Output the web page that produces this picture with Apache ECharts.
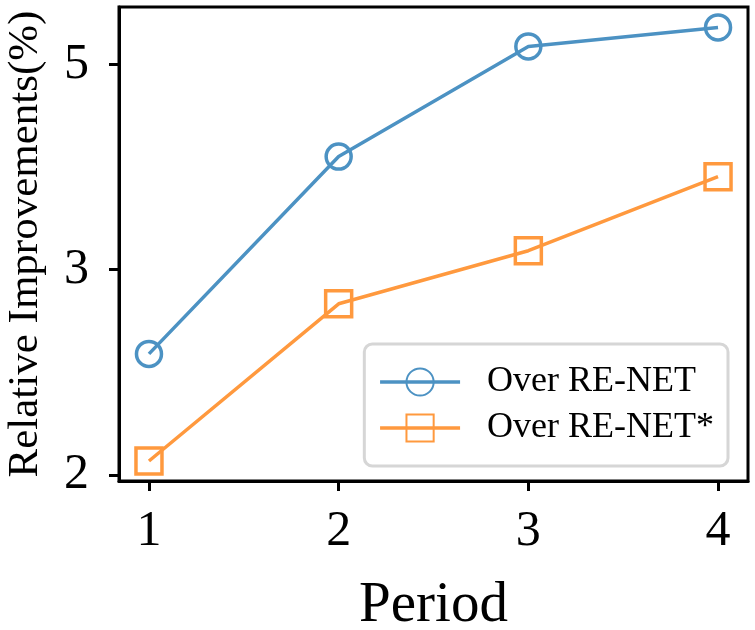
<!DOCTYPE html>
<html>
<head>
<meta charset="utf-8">
<script src="https://cdn.jsdelivr.net/npm/echarts@6/dist/echarts.min.js"></script>
<style>
  html, body { margin: 0; padding: 0; background: #fff; }
  #chart { width: 755px; height: 630px; }
</style>
</head>
<body>
<div id="chart"></div>
<script>
// data
var periods = [1, 2, 3, 4]
var overRenet = [2.885, 4.327, 5.132, 5.271]
var overRenetStar = [2.102, 3.251, 3.639, 4.18]
var yTickValues = [2, 3.5, 5]
var yTickLabels = ['2', '3', '5']

var font = 'Liberation Serif'
var chart = echarts.init(document.getElementById('chart'))

function pairs (ys) {
  return periods.map(function (p, i) { return [p, ys[i]] })
}

chart.setOption({
  animation: false,
  backgroundColor: '#fff',
  grid: {
    left: 119, right: 7, top: 7, bottom: 149,
    outerBoundsMode: 'none',
    show: true, borderColor: '#000', borderWidth: 3, backgroundColor: 'transparent'
  },
  legend: {
    orient: 'vertical',
    right: 27, bottom: 164,
    padding: [20, 14, 20, 14],
    itemWidth: 80, itemHeight: 34, itemGap: 10,
    backgroundColor: '#fff',
    borderColor: '#d6d6d6', borderWidth: 3, borderRadius: 8,
    lineStyle: { width: 3.5 },
    textStyle: { fontFamily: font, fontSize: 36, color: '#000', padding: [0, 0, 0, 22] },
    data: ['Over RE-NET', 'Over RE-NET*']
  },
  xAxis: {
    type: 'value',
    min: 0.842, max: 4.158,
    name: 'Period', nameLocation: 'middle', nameGap: 97,
    nameTextStyle: { fontFamily: font, fontSize: 57, color: '#000' },
    axisLine: { show: true, lineStyle: { color: '#000', width: 3 } },
    axisTick: { show: true, length: 10, lineStyle: { color: '#000', width: 3 }, customValues: periods },
    axisLabel: { fontFamily: font, fontSize: 50, color: '#000', margin: 26, customValues: periods },
    splitLine: { show: false }
  },
  yAxis: {
    type: 'value',
    min: 1.956, max: 5.42,
    name: 'Relative Improvements(%)', nameLocation: 'middle', nameGap: 72,
    nameTextStyle: { fontFamily: font, fontSize: 43, color: '#000' },
    axisLine: { show: true, lineStyle: { color: '#000', width: 3 } },
    axisTick: { show: true, length: 10, lineStyle: { color: '#000', width: 3 }, customValues: yTickValues },
    axisLabel: {
      fontFamily: font, fontSize: 50, color: '#000', margin: 30,
      customValues: yTickValues,
      formatter: function (v) {
        var i = yTickValues.indexOf(v)
        return i >= 0 ? yTickLabels[i] : ''
      }
    },
    splitLine: { show: false }
  },
  series: [
    {
      name: 'Over RE-NET',
      type: 'line',
      data: pairs(overRenet),
      symbol: 'circle', symbolSize: 25,
      lineStyle: { color: '#4c92c3', width: 3.5 },
      itemStyle: { color: 'transparent', borderColor: '#4c92c3', borderWidth: 3.5 },
      z: 3
    },
    {
      name: 'Over RE-NET*',
      type: 'line',
      data: pairs(overRenetStar),
      symbol: 'rect', symbolSize: 26,
      lineStyle: { color: '#ff993e', width: 3.5 },
      itemStyle: { color: 'transparent', borderColor: '#ff993e', borderWidth: 3.5 },
      z: 3
    }
  ]
})
</script>
</body>
</html>
